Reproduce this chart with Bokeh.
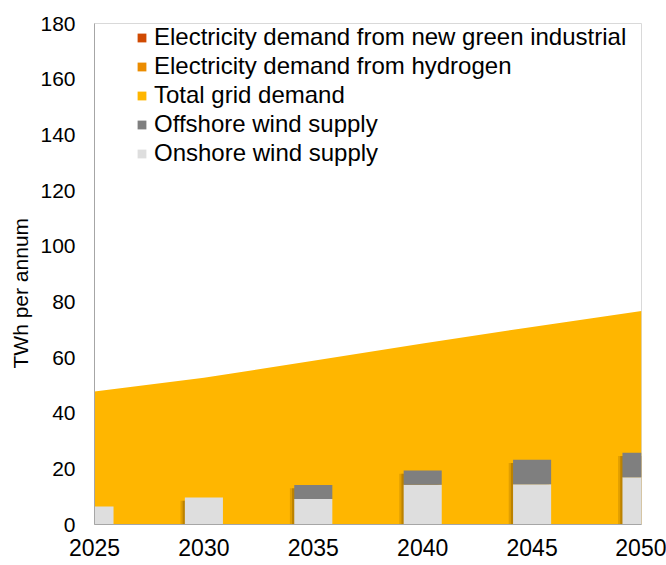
from bokeh.plotting import figure
from bokeh.models import FixedTicker, Legend, LegendItem, ColumnDataSource, Range1d, Title
from bokeh.embed import file_html
from bokeh.resources import INLINE

years = [2025, 2030, 2035, 2040, 2045, 2050]
grid_demand = [47.8, 52.7, 58.8, 65.0, 71.0, 76.7]
hydrogen_demand = [0, 0, 0, 0, 0, 0]
industrial_demand = [0, 0, 0, 0, 0, 0]
onshore = [6.5, 9.7, 9.2, 14.3, 14.5, 17.0]
offshore = [0.0, 0.0, 5.0, 5.1, 8.8, 8.8]
y_ticks = [0, 20, 40, 60, 80, 100, 120, 140, 160, 180]
x_ticks = [2025, 2030, 2035, 2040, 2045, 2050]

C_IND = "#D04A02"
C_H2 = "#EB8C00"
C_GRID = "#FFB600"
C_OFF = "#7F7F7F"
C_ON = "#DEDEDE"

totals = [a + b for a, b in zip(onshore, offshore)]

src = ColumnDataSource(dict(
    x=years, grid=grid_demand, h2=hydrogen_demand, ind=industrial_demand,
    onshore=onshore, offshore=offshore, total=totals,
    xs1=[x - 0.10 for x in years], xs2=[x - 0.20 for x in years],
    ts=[t - 1.2 if t > 0 else 0 for t in totals],
))

p = figure(width=666, height=565, output_backend="svg", toolbar_location=None,
           x_range=Range1d(2025, 2050), y_range=Range1d(0, 180),
           min_border_left=94, min_border_right=25, min_border_top=23, min_border_bottom=41)

areas = p.varea_stack(["grid", "h2", "ind"], x="x", source=src, color=[C_GRID, C_H2, C_IND])

# soft shadow behind bars
p.vbar(x="xs2", top="ts", bottom=0, width=1.74, source=src, fill_color="#4a2a00", fill_alpha=0.16, line_color=None)
p.vbar(x="xs1", top="ts", bottom=0, width=1.74, source=src, fill_color="#4a2a00", fill_alpha=0.25, line_color=None)

bars = p.vbar_stack(["onshore", "offshore"], x="x", width=1.74, source=src,
                    color=[C_ON, C_OFF], line_color=None)

p.xgrid.visible = False
p.ygrid.visible = False
p.outline_line_color = "#D9D9D9"
p.outline_line_width = 1

p.yaxis.ticker = FixedTicker(ticks=y_ticks)
p.xaxis.ticker = FixedTicker(ticks=x_ticks)
for ax in (p.xaxis[0], p.yaxis[0]):
    ax.axis_line_color = "#A6A6A6"
    ax.major_tick_line_color = None
    ax.minor_tick_line_color = None
    ax.major_tick_out = 0
    ax.major_tick_in = 0
    ax.major_label_text_color = "black"

p.yaxis.major_label_text_font = "Liberation Sans"
p.yaxis.major_label_text_font_size = "21px"
p.yaxis.major_label_standoff = 19

ytitle = Title(text="TWh per annum", align="left", offset=156,
               text_font="Liberation Sans", text_font_size="21px",
               text_font_style="normal", text_color="black", standoff=12)
p.add_layout(ytitle, "left")

p.xaxis.major_label_text_font = "Liberation Sans"
p.xaxis.major_label_text_font_size = "23px"
p.xaxis.major_label_standoff = 14

legend = Legend(items=[
    LegendItem(label="Electricity demand from new green industrial", renderers=[areas[2]]),
    LegendItem(label="Electricity demand from hydrogen", renderers=[areas[1]]),
    LegendItem(label="Total grid demand", renderers=[areas[0]]),
    LegendItem(label="Offshore wind supply", renderers=[bars[1]]),
    LegendItem(label="Onshore wind supply", renderers=[bars[0]]),
], location=(42, 357))
legend.border_line_color = None
legend.background_fill_alpha = 0
legend.padding = 0
legend.margin = 0
legend.glyph_width = 11
legend.glyph_height = 11
legend.label_standoff = 7
legend.label_text_font = "Liberation Sans"
legend.label_text_font_size = "24px"
legend.label_text_color = "black"
legend.label_height = 24
legend.spacing = 1
p.add_layout(legend, "center")

open("out.html", "w").write(file_html(p, INLINE))
